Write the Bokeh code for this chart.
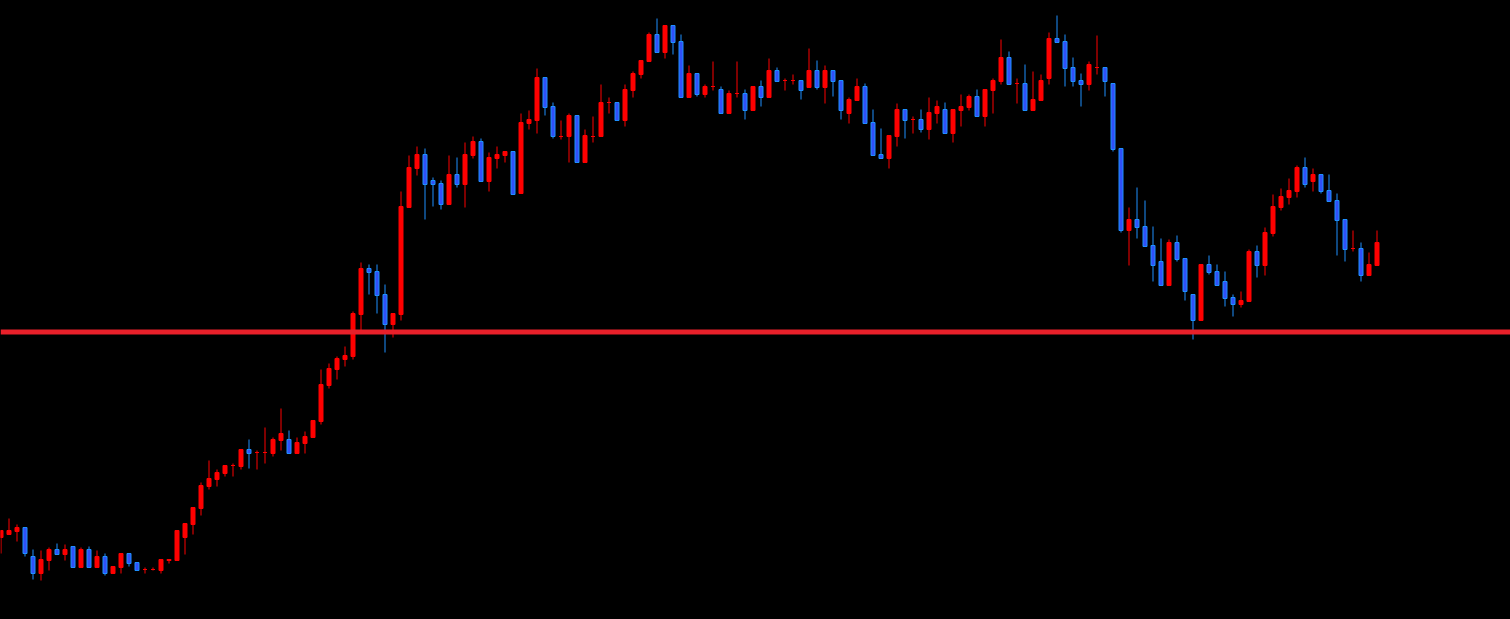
from bokeh.plotting import figure
from bokeh.models import ColumnDataSource, Span, Range1d
from bokeh.embed import file_html
from bokeh.resources import INLINE

# OHLC values (arbitrary price units)
opens = [83, 86, 89, 93, 64, 47, 60, 71, 66, 74, 53, 71, 53, 64, 47, 53, 67, 58, 51, 51,
         50, 60, 60, 83, 96, 112, 134, 141, 147, 155, 154, 171, 168, 168, 167, 180, 181, 167, 177, 183,
         199, 235, 251, 261, 264, 306, 352, 349, 326, 296, 306, 413, 452, 466, 440, 437, 416, 446, 436, 465,
         479, 439, 462, 465, 469, 427, 497, 500, 543, 514, 484, 484, 505, 458, 484, 484, 518, 518, 500, 530,
         546, 559, 586, 568, 595, 579, 523, 547, 526, 534, 531, 507, 527, 527, 510, 534, 523, 550, 540, 540,
         540, 533, 550, 533, 550, 540, 507, 520, 534, 498, 466, 462, 484, 511, 501, 501, 491, 507, 511, 487,
         510, 513, 524, 504, 530, 539, 563, 537, 537, 510, 520, 542, 582, 579, 553, 540, 536, 553, 553, 537,
         472, 390, 401, 394, 375, 359, 335, 378, 362, 326, 300, 356, 349, 339, 323, 316, 319, 369, 355, 387,
         413, 423, 429, 453, 439, 446, 430, 420, 401, 372, 372, 345, 355]
highs = [90, 102, 96, 93, 71, 70, 73, 77, 76, 74, 73, 74, 70, 67, 54, 67, 67, 58, 53, 53,
         61, 61, 90, 97, 113, 138, 160, 151, 155, 157, 171, 181, 170, 193, 183, 212, 190, 183, 189, 200,
         251, 257, 264, 274, 309, 358, 356, 356, 336, 307, 429, 465, 474, 472, 443, 440, 465, 463, 478, 484,
         482, 468, 474, 469, 469, 507, 510, 552, 543, 518, 500, 507, 505, 491, 504, 536, 523, 518, 536, 549,
         560, 588, 602, 595, 595, 586, 555, 547, 536, 559, 534, 530, 559, 531, 534, 540, 562, 553, 542, 546,
         540, 572, 560, 555, 550, 540, 523, 542, 537, 511, 492, 485, 517, 511, 504, 511, 523, 520, 518, 511,
         526, 526, 531, 531, 542, 581, 569, 542, 556, 549, 546, 588, 605, 586, 563, 547, 559, 585, 553, 537,
         472, 413, 433, 420, 394, 382, 381, 385, 362, 326, 356, 365, 356, 349, 326, 329, 371, 375, 393, 426,
         432, 442, 455, 463, 452, 446, 446, 427, 401, 390, 378, 368, 390]
lows = [67, 86, 79, 64, 41, 40, 50, 66, 60, 53, 53, 53, 53, 45, 47, 47, 54, 50, 47, 50,
        47, 57, 60, 66, 86, 105, 131, 134, 144, 144, 151, 152, 151, 157, 164, 170, 167, 167, 167, 183,
        196, 232, 241, 254, 261, 290, 326, 307, 268, 283, 300, 413, 445, 401, 414, 411, 416, 433, 413, 462,
        439, 429, 452, 458, 426, 427, 491, 487, 505, 482, 481, 458, 458, 458, 478, 484, 507, 500, 494, 523,
        542, 559, 568, 562, 566, 523, 523, 524, 523, 530, 507, 507, 523, 501, 510, 514, 523, 539, 530, 536,
        521, 533, 531, 517, 524, 501, 497, 520, 497, 465, 462, 452, 474, 482, 487, 488, 481, 497, 487, 478,
        494, 510, 504, 494, 507, 536, 536, 517, 510, 510, 520, 536, 578, 534, 534, 514, 530, 546, 524, 469,
        388, 355, 382, 374, 339, 335, 335, 359, 320, 281, 300, 346, 335, 314, 304, 313, 319, 343, 345, 384,
        410, 416, 423, 433, 429, 427, 419, 365, 359, 369, 339, 345, 355]
closes = [90, 90, 93, 67, 47, 61, 71, 66, 71, 53, 71, 53, 64, 47, 54, 67, 57, 50, 51, 51,
          61, 61, 90, 97, 113, 135, 142, 148, 155, 155, 171, 167, 168, 168, 181, 187, 167, 178, 184, 200,
          236, 252, 262, 265, 307, 352, 348, 325, 296, 307, 414, 453, 466, 436, 436, 416, 446, 436, 466, 479,
          439, 463, 466, 469, 426, 498, 501, 543, 513, 484, 484, 505, 458, 485, 484, 518, 518, 500, 531, 547,
          560, 586, 568, 595, 578, 523, 547, 526, 534, 534, 507, 527, 527, 510, 534, 523, 550, 539, 540, 540,
          530, 550, 533, 550, 539, 510, 521, 534, 497, 465, 462, 485, 511, 500, 501, 491, 508, 514, 487, 511,
          514, 524, 504, 531, 540, 563, 536, 537, 510, 521, 540, 582, 578, 552, 539, 536, 556, 553, 539, 471,
          390, 401, 393, 374, 355, 335, 378, 361, 329, 300, 356, 348, 335, 322, 316, 320, 369, 355, 388, 414,
          424, 430, 453, 436, 446, 429, 419, 400, 371, 372, 345, 356, 378]
level = 288.5  # horizontal support line

UP_COLOR = "#ff0000"
DOWN_FILL = "#3050f8"
DOWN_LINE = "#1e90ff"
LEVEL_COLOR = "#e8202a"
BG = "#000000"

n = len(opens)
xs = list(range(n))
is_up = [c >= o for o, c in zip(opens, closes)]

body_top = [max(o, c) for o, c in zip(opens, closes)]
body_bot = [min(o, c) for o, c in zip(opens, closes)]


def pick(vals, want_up):
    return [v for v, u in zip(vals, is_up) if u == want_up]


up = ColumnDataSource(dict(x=pick(xs, True), top=pick(body_top, True), bottom=pick(body_bot, True),
                           high=pick(highs, True), low=pick(lows, True)))
dn = ColumnDataSource(dict(x=pick(xs, False), top=pick(body_top, False), bottom=pick(body_bot, False),
                           high=pick(highs, False), low=pick(lows, False)))

W, H = 1510, 619
p = figure(width=W, height=H, output_backend="svg", toolbar_location=None,
           x_axis_location=None, y_axis_location=None,
           x_range=Range1d(-0.0625, 188.6875), y_range=Range1d(1, 620),
           min_border=0, background_fill_color=BG, border_fill_color=BG)
p.outline_line_color = None
p.xgrid.visible = False
p.ygrid.visible = False

# wicks
p.segment(x0="x", y0="low", x1="x", y1="high", source=up, line_color=UP_COLOR, line_width=1)
p.segment(x0="x", y0="low", x1="x", y1="high", source=dn, line_color=DOWN_LINE, line_width=1)
# bodies
p.vbar(x="x", top="top", bottom="bottom", width=0.5, source=up,
       fill_color=UP_COLOR, line_color=UP_COLOR, line_width=1)
p.vbar(x="x", top="top", bottom="bottom", width=0.5, source=dn,
       fill_color=DOWN_FILL, line_color=DOWN_LINE, line_width=1)

p.add_layout(Span(location=level, dimension="width", line_color=LEVEL_COLOR, line_width=5))

html = file_html(p, INLINE)
html = html.replace("<head>", "<head><style>html,body{background:#000000;}</style>", 1)
open("out.html", "w").write(html)
